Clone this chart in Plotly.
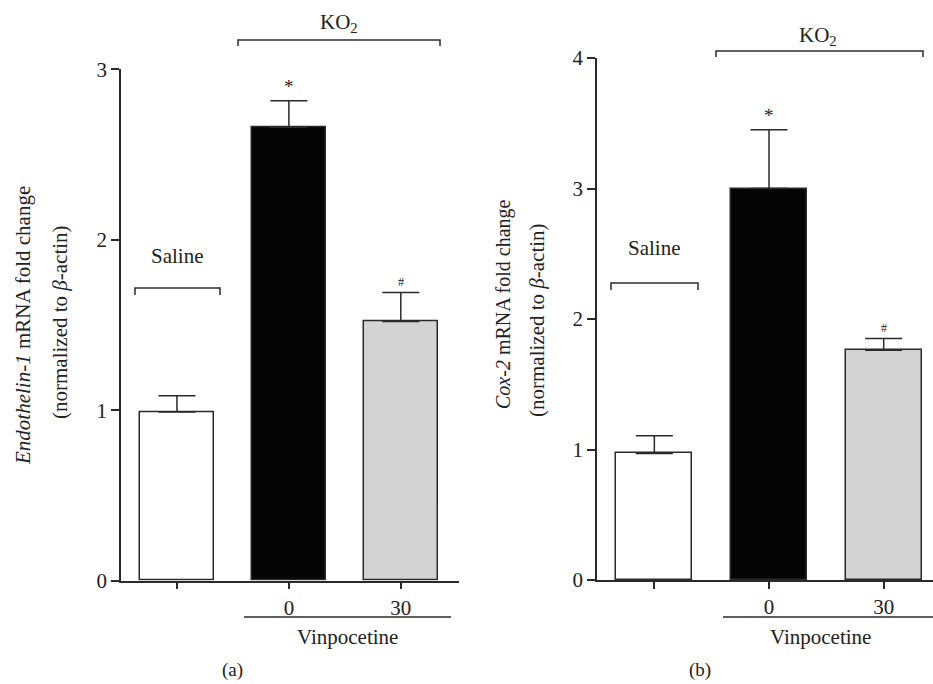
import plotly.graph_objects as go

# ---------------- data ----------------
groups = ["Saline", "KO2 + Vinpocetine 0", "KO2 + Vinpocetine 30"]
tick_labels = ["", "0", "30"]
bar_colors = ["#ffffff", "#050505", "#d3d3d3"]
sig_marks = ["", "*", "#"]

et1_mean = [0.99, 2.66, 1.52]
et1_err = [0.095, 0.155, 0.17]

cox2_mean = [0.97, 3.00, 1.76]
cox2_err = [0.135, 0.45, 0.09]

W, H = 933, 684
FONT = "Liberation Serif, Times New Roman, serif"
LINE = "#2a2a2a"
FS = 21


def px(x):
    return x / W


def py(y):
    return 1 - y / H


fig = go.Figure()
positions = list(range(len(groups)))

for means, errs, xa, ya in [(et1_mean, et1_err, "x", "y"), (cox2_mean, cox2_err, "x2", "y2")]:
    fig.add_trace(go.Bar(
        x=positions, y=means, xaxis=xa, yaxis=ya, width=0.66,
        marker=dict(color=bar_colors, line=dict(color=LINE, width=1.5)),
        error_y=dict(type="data", array=errs, arrayminus=[0] * len(errs), symmetric=False,
                     color=LINE, thickness=1.5, width=18.5),
        hovertext=groups, showlegend=False,
    ))

axis_common = dict(showline=True, linecolor=LINE, linewidth=1.5, ticks="outside",
                   tickcolor=LINE, tickwidth=1.5, showgrid=False, zeroline=False,
                   tickfont=dict(family=FONT, size=FS, color="#222"))

fig.update_layout(
    width=W, height=H, margin=dict(l=0, r=0, t=0, b=0, autoexpand=False),
    plot_bgcolor="white", paper_bgcolor="white", bargap=0,
    xaxis=dict(domain=[px(121), px(459)], range=[-0.5, 2.52], tickvals=positions,
               ticktext=tick_labels, ticklen=7, anchor="y", **axis_common),
    yaxis=dict(domain=[py(580.7), py(69.3)], range=[0, 3], tickvals=[0, 1, 2, 3],
               ticklen=8, anchor="x", **axis_common),
    xaxis2=dict(domain=[px(597), 1.0], range=[-0.5, 2.43], tickvals=positions,
                ticktext=tick_labels, ticklen=7, anchor="y2", **axis_common),
    yaxis2=dict(domain=[py(580), py(58)], range=[0, 4], tickvals=[0, 1, 2, 3, 4],
                ticklen=8, anchor="x2", **axis_common),
)

shapes = []
annots = []


def bracket(x0, x1, y, drop):
    shapes.append(dict(type="path", xref="paper", yref="paper",
                       path=f"M {px(x0)},{py(y + drop)} L {px(x0)},{py(y)} L {px(x1)},{py(y)} L {px(x1)},{py(y + drop)}",
                       line=dict(color=LINE, width=1.5)))


def hline(x0, x1, y):
    shapes.append(dict(type="line", xref="paper", yref="paper", x0=px(x0), x1=px(x1),
                       y0=py(y), y1=py(y), line=dict(color=LINE, width=1.5)))


def text(t, x, y, size=FS, angle=0):
    annots.append(dict(text=t, x=px(x), y=py(y), xref="paper", yref="paper", showarrow=False,
                       xanchor="center", yanchor="middle", textangle=angle,
                       font=dict(family=FONT, size=size, color="#222")))


# Panel (a)
bracket(135, 220, 288, 7)
text("Saline", 177, 256)
bracket(238, 440, 40, 6)
text("KO<sub>2</sub>", 339, 23)
hline(244, 451, 617)
text("Vinpocetine", 347, 637)
text("<i>Endothelin-1</i> mRNA fold change", 23, 326, angle=-90)
text("(normalized to <i>β</i>-actin)", 60, 322, angle=-90)
text("(a)", 232, 670, size=19)

# Panel (b)
bracket(611, 698, 283, 7)
text("Saline", 654, 248)
bracket(716, 923, 51, 6)
text("KO<sub>2</sub>", 818, 36)
hline(723, 933, 617)
text("Vinpocetine", 820, 637)
text("<i>Cox-2</i> mRNA fold change", 503, 304, size=20, angle=-90)
text("(normalized to <i>β</i>-actin)", 537, 320, angle=-90)
text("(b)", 700, 670, size=19)

# significance marks above error bars (data coordinates)
for means, errs, xa, ya in [(et1_mean, et1_err, "x", "y"), (cox2_mean, cox2_err, "x2", "y2")]:
    for i, m in enumerate(sig_marks):
        if not m:
            continue
        annots.append(dict(text=m, x=positions[i], y=means[i] + errs[i], xref=xa, yref=ya,
                           showarrow=False, xanchor="center", yanchor="bottom", yshift=2,
                           font=dict(family=FONT, size=19 if m == "*" else 12, color="#222")))

fig.update_layout(shapes=shapes, annotations=annots)
fig.write_html("out.html")
